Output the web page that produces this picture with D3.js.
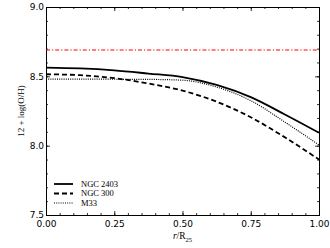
<!DOCTYPE html>
<html>
<head>
<meta charset="utf-8">
<script src="https://cdn.jsdelivr.net/npm/d3@7"></script>
<style>
  body { margin: 0; background: #fff; }
  .tick text { font-family: 'DejaVu Sans', sans-serif; font-size: 9px; fill: #000; }
  .serif { font-family: 'Liberation Serif', 'DejaVu Serif', serif; fill: #000; }
</style>
</head>
<body>
<div id="chart"></div>
<script>
// radius in units of R25
let rValues = [0, 0.125, 0.25, 0.375, 0.5, 0.625, 0.75, 0.875, 1.0]
// 12 + log(O/H) profiles
let ngc2403 = [8.563, 8.557, 8.543, 8.52, 8.495, 8.438, 8.35, 8.225, 8.093]
let ngc300 = [8.515, 8.508, 8.487, 8.448, 8.397, 8.317, 8.205, 8.06, 7.90]
let m33 = [8.48, 8.48, 8.479, 8.478, 8.472, 8.423, 8.325, 8.17, 8.005]
let solarValue = 8.69
let seriesNames = ['NGC 2403', 'NGC 300', 'M33']
let xTicks = [0, 0.25, 0.5, 0.75, 1.0]
let yTicks = [7.5, 8.0, 8.5, 9.0]

var width = 330
var height = 248
var margin = {top: 7, right: 11, bottom: 33, left: 46}

var svg = d3.select('#chart')
  .append('svg')
  .attr('width', width)
  .attr('height', height)

var x = d3.scaleLinear()
  .domain([0, 1])
  .range([margin.left, width - margin.right])

var y = d3.scaleLinear()
  .domain([7.5, 9.0])
  .range([height - margin.bottom, margin.top])

// minor ticks first, then major ones with labels
var xMinor = d3.range(0, 1.0001, 0.05)
var yMinor = d3.range(7.5, 9.0001, 0.1)

svg.append('g')
  .attr('transform', 'translate(0,' + (height - margin.bottom) + ')')
  .call(d3.axisBottom(x).tickValues(xMinor).tickSize(-2).tickFormat(''))
svg.append('g')
  .attr('transform', 'translate(0,' + margin.top + ')')
  .call(d3.axisTop(x).tickValues(xMinor).tickSize(-2).tickFormat(''))
svg.append('g')
  .attr('transform', 'translate(' + margin.left + ',0)')
  .call(d3.axisLeft(y).tickValues(yMinor).tickSize(-2).tickFormat(''))
svg.append('g')
  .attr('transform', 'translate(' + (width - margin.right) + ',0)')
  .call(d3.axisRight(y).tickValues(yMinor).tickSize(-2).tickFormat(''))

svg.append('g')
  .attr('transform', 'translate(0,' + (height - margin.bottom) + ')')
  .call(d3.axisBottom(x).tickValues(xTicks).tickSize(-4).tickPadding(6).tickFormat(d3.format('.2f')))
svg.append('g')
  .attr('transform', 'translate(0,' + margin.top + ')')
  .call(d3.axisTop(x).tickValues(xTicks).tickSize(-4).tickFormat(''))
svg.append('g')
  .attr('transform', 'translate(' + margin.left + ',0)')
  .call(d3.axisLeft(y).tickValues(yTicks).tickSize(-4).tickPadding(2).tickFormat(d3.format('.1f')))
svg.append('g')
  .attr('transform', 'translate(' + (width - margin.right) + ',0)')
  .call(d3.axisRight(y).tickValues(yTicks).tickSize(-4).tickFormat(''))

svg.selectAll('.domain').attr('stroke', '#000').attr('stroke-width', 1)
svg.selectAll('.tick line').attr('stroke', '#000').attr('stroke-width', 0.8)

// solar reference line
svg.append('line')
  .attr('x1', x(0))
  .attr('x2', x(1))
  .attr('y1', y(solarValue))
  .attr('y2', y(solarValue))
  .attr('stroke', '#ff0000')
  .attr('stroke-width', 1.2)
  .attr('stroke-dasharray', '4,2,1.2,2')

var line = d3.line()
  .x(function (d, i) { return x(rValues[i]) })
  .y(function (d) { return y(d) })
  .curve(d3.curveMonotoneX)

var styles = [
  {data: ngc2403, width: 1.8, dash: null},
  {data: ngc300, width: 1.8, dash: '5,3'},
  {data: m33, width: 1.2, dash: '1,1.2'}
]

styles.forEach(function (s) {
  svg.append('path')
    .attr('d', line(s.data))
    .attr('fill', 'none')
    .attr('stroke', '#000')
    .attr('stroke-width', s.width)
    .attr('stroke-dasharray', s.dash)
})

// legend
var legendY = [184, 193.5, 203]
seriesNames.forEach(function (name, i) {
  svg.append('line')
    .attr('x1', 54)
    .attr('x2', 73)
    .attr('y1', legendY[i])
    .attr('y2', legendY[i])
    .attr('stroke', '#000')
    .attr('stroke-width', styles[i].width)
    .attr('stroke-dasharray', styles[i].dash)
  svg.append('text')
    .attr('class', 'serif')
    .attr('x', 81)
    .attr('y', legendY[i])
    .attr('dy', '0.33em')
    .style('font-size', '8.5px')
    .text(name)
})

// axis labels
svg.append('text')
  .attr('class', 'serif')
  .attr('transform', 'translate(24,' + ((margin.top + height - margin.bottom) / 2) + ') rotate(-90)')
  .attr('text-anchor', 'middle')
  .style('font-size', '9px')
  .text('12 + log(O/H)')

var xLabel = svg.append('text')
  .attr('class', 'serif')
  .attr('x', x(0.5))
  .attr('y', 239)
  .attr('text-anchor', 'middle')
  .style('font-size', '9.5px')
xLabel.append('tspan').style('font-style', 'italic').text('r')
xLabel.append('tspan').text('/R')
xLabel.append('tspan').attr('dy', 2.5).style('font-size', '6.5px').text('25')
</script>
</body>
</html>
